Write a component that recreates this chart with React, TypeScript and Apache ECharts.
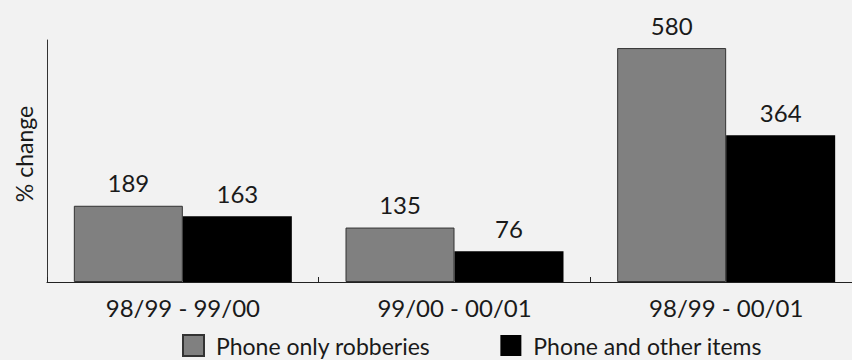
import React, { useEffect, useRef } from "react";
import * as echarts from "echarts";

const periods = ["98/99 - 99/00", "99/00 - 00/01", "98/99 - 00/01"];
const phoneOnly = [189, 135, 580];
const phoneAndOther = [163, 76, 364];
const seriesNames = ["Phone only robberies", "Phone and other items"];
const yAxisTitle = "% change";

const FONT = "Lato, 'Open Sans', sans-serif";
const TEXT = "#1a1a1a";

export default function App() {
  const ref = useRef<HTMLDivElement>(null);

  useEffect(() => {
    if (!ref.current) return;
    const chart = echarts.init(ref.current, undefined, { renderer: "svg" });

    const labelStyle = {
      show: true,
      position: "top" as const,
      distance: 11,
      fontSize: 24,
      fontFamily: FONT,
      color: TEXT,
    };

    chart.setOption({
      animation: false,
      backgroundColor: "#f2f2f2",
      textStyle: { fontFamily: FONT },
      grid: { left: 47, top: 40, width: 815, height: 242 },
      legend: {
        left: 182,
        top: 334,
        padding: 0,
        icon: "rect",
        itemWidth: 21,
        itemHeight: 21,
        itemGap: 70,
        selectedMode: false,
        data: seriesNames,
        textStyle: {
          fontSize: 23,
          fontFamily: FONT,
          color: TEXT,
          padding: [0, 0, 0, 7],
        },
      },
      graphic: [
        {
          type: "text",
          x: 24,
          y: 154,
          rotation: Math.PI / 2,
          style: {
            text: yAxisTitle,
            fontSize: 23,
            fontFamily: FONT,
            fill: TEXT,
            align: "center",
            verticalAlign: "middle",
          },
        },
      ],
      xAxis: {
        type: "category",
        data: periods,
        axisLine: { lineStyle: { color: "#222", width: 1 } },
        axisTick: { show: true, inside: true, length: 5, lineStyle: { color: "#222" } },
        axisLabel: { fontSize: 24, fontFamily: FONT, color: TEXT, margin: 13 },
      },
      yAxis: {
        type: "value",
        min: 0,
        max: 600,
        axisLine: { show: true, lineStyle: { color: "#333", width: 1 } },
        axisTick: { show: false },
        axisLabel: { show: false },
        splitLine: { show: false },
      },
      series: [
        {
          name: seriesNames[0],
          type: "bar",
          data: phoneOnly,
          barWidth: 109,
          barGap: "0%",
          itemStyle: { color: "#808080", borderColor: "#333", borderWidth: 1 },
          label: labelStyle,
        },
        {
          name: seriesNames[1],
          type: "bar",
          data: phoneAndOther,
          barWidth: 109,
          barGap: "0%",
          itemStyle: { color: "#000000" },
          label: labelStyle,
        },
      ],
    });

    return () => chart.dispose();
  }, []);

  // The plot area runs past the visible frame on the right, so the chart
  // canvas is wider than its clipping wrapper.
  return (
    <div
      style={{
        position: "fixed",
        left: 0,
        top: 0,
        width: 852,
        height: 360,
        overflow: "hidden",
        background: "#f2f2f2",
      }}
    >
      <div ref={ref} style={{ width: 872, height: 360 }} />
    </div>
  );
}
